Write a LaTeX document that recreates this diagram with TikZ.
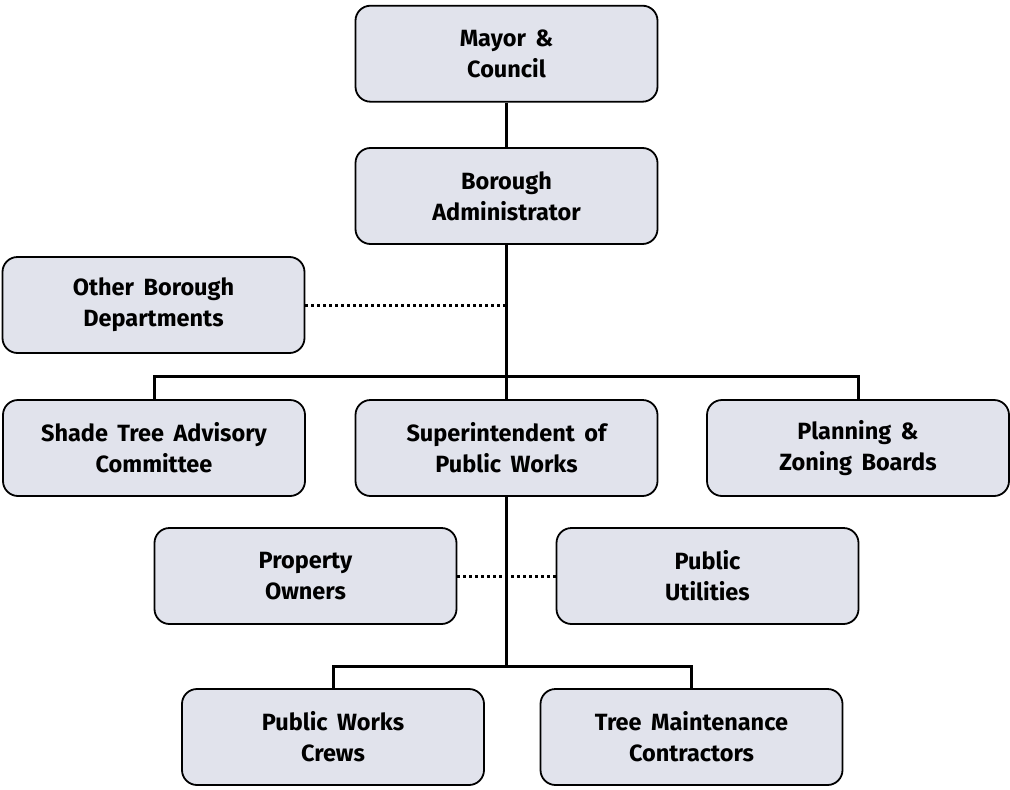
\documentclass[tikz,border=0pt]{standalone}
\usepackage{fontspec}
\setmainfont{Fira Sans}[WordSpace=1.7]
\definecolor{boxfill}{RGB}{225,227,236}
\tikzset{
  orgbox/.style={draw=black, line width=1.8pt, fill=boxfill, rounded corners=15pt,
    minimum width=302pt, minimum height=96pt, align=center, inner sep=0pt,
    font=\fontsize{23.5}{31}\selectfont\bfseries},
  conn/.style={draw=black, line width=3pt},
  dotconn/.style={draw=black, line width=3pt, dash pattern=on 3pt off 3pt}
}
\begin{document}
\begin{tikzpicture}[x=1pt,y=-1pt]
\useasboundingbox (0,0) rectangle (1010,790);
\node[orgbox] (mayor) at (506.5,53.7) {Mayor \&\\Council};
\node[orgbox] (admin) at (506.5,196) {Borough\\Administrator};
\node[orgbox] (other) at (153.5,305) {Other Borough\\Departments};
\node[orgbox] (shade) at (154,448) {Shade Tree Advisory\\Committee};
\node[orgbox] (super) at (506.5,448) {Superintendent of\\Public Works};
\node[orgbox] (plan) at (858,448) {Planning \&\\Zoning Boards};
\node[orgbox] (prop) at (305.5,576) {Property\\Owners};
\node[orgbox] (util) at (707.5,576) {Public\\Utilities};
\node[orgbox] (crews) at (333,737) {Public Works\\Crews};
\node[orgbox] (tree) at (691.5,737) {Tree Maintenance\\Contractors};
\coordinate (bar1) at (506.5,376);
\coordinate (bar2) at (506.5,666);
\coordinate (junc) at (506.5,305);
\draw[conn] (mayor.south) -- (admin.north);
\draw[conn] (admin.south) -- (super.north);
\draw[conn] (shade.north) |- (bar1) -| (plan.north);
\draw[conn] (super.south) -- (bar2);
\draw[conn] (crews.north) |- (bar2) -| (tree.north);
\draw[dotconn] (other.east) -- (junc);
\draw[dotconn] (prop.east) -- (util.west);
\end{tikzpicture}
\end{document}
